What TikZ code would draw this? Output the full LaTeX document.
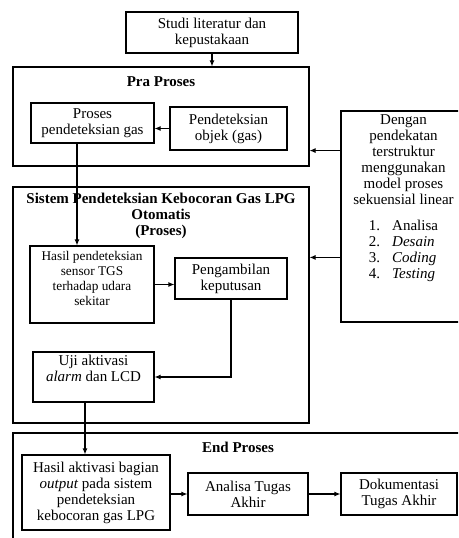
\documentclass[tikz,border=0pt]{standalone}
\usepackage{fontspec}
\setmainfont{Liberation Serif}
\usetikzlibrary{arrows.meta,calc}

\begin{document}
\begin{tikzpicture}[x=1pt,y=-1pt,
  font=\fontsize{15}{16}\selectfont,
  box/.style 2 args={draw,line width=1.1pt,minimum width=#1,minimum height=#2,align=center,inner sep=1pt},
  title/.style={anchor=north,inner sep=0pt,align=center,font=\fontsize{15}{16}\selectfont\bfseries},
  arr/.style={line width=1.1pt,-{Latex[length=6pt,width=5pt]}}]

\path[use as bounding box,clip] (0,0) rectangle (458,538);

\node[box={172}{41}] (studi) at (212,32.5) {Studi literatur dan\\kepustakaan};

\node[box={296}{99}] (pra) at (161,116.5) {};
\node[title] (praTitle) at (161,76) {Pra Proses};
\node[box={123}{40}] (prosesgas) at (92.5,123) {Proses\\pendeteksian gas};
\node[box={117}{43}] (objek) at (228.5,128.5) {Pendeteksian\\objek (gas)};

\node[box={125}{211}] (metode) at (403.5,216.5) {};
\node[anchor=north,inner sep=0pt,align=center] (metodeTxt) at (403.5,114) {Dengan\\pendekatan\\terstruktur\\menggunakan\\model proses\\sekuensial linear\\[10pt]
  \begin{tabular}[t]{@{}l@{\hspace{12pt}}l@{}}1.&Analisa\\2.&\textit{Desain}\\3.&\textit{Coding}\\4.&\textit{Testing}\end{tabular}};

\node[box={296}{236}] (sistem) at (161,305) {};
\node[title] (sistemTitle) at (161,193) {Sistem Pendeteksian Kebocoran Gas LPG\\Otomatis\\(Proses)};
\node[box={124}{77},font=\fontsize{13.3}{15}\selectfont,text depth=13pt] (sensor) at (92,284.5) {Hasil pendeteksian\\sensor TGS\\terhadap udara\\sekitar};
\node[box={112}{41}] (ambil) at (231,278.5) {Pengambilan\\keputusan};
\node[box={121}{50},text depth=17pt] (uji) at (93.5,377) {Uji aktivasi\\\textit{alarm} dan LCD};

\node[box={457}{117}] (endp) at (241.5,491.5) {};
\node[title] (endTitle) at (238,442) {End Proses};
\node[box={148}{75}] (keluaran) at (96,492.5) {Hasil aktivasi bagian\\\textit{output} pada sistem\\pendeteksian\\kebocoran gas LPG};
\node[box={120}{42}] (analisa) at (248,494) {Analisa Tugas\\Akhir};
\node[box={116}{42}] (dokumen) at (399,494) {Dokumentasi\\Tugas Akhir};

\draw[arr] (studi.south) -- (studi.south |- pra.north);
\draw[arr] (objek.west) -- (objek.west -| prosesgas.east);
\draw[arr] (metode.west |- objek.south) -- (pra.east |- objek.south);
\draw[arr] (metode.west |- ambil.north) -- (sistem.east |- ambil.north);
\draw[arr] ([xshift=-15.5pt]prosesgas.south) -- ([xshift=-15.5pt]prosesgas.south |- sensor.north);
\draw[arr] (sensor.east) -- (sensor.east -| ambil.west);
\draw[arr] (ambil.south) |- (uji.east);
\draw[arr] ([xshift=-8.5pt]uji.south) -- ([xshift=-8.5pt]uji.south |- keluaran.north);
\draw[arr] (keluaran.east |- analisa.west) -- (analisa.west);
\draw[arr] (analisa.east) -- (dokumen.west);

\end{tikzpicture}
\end{document}
